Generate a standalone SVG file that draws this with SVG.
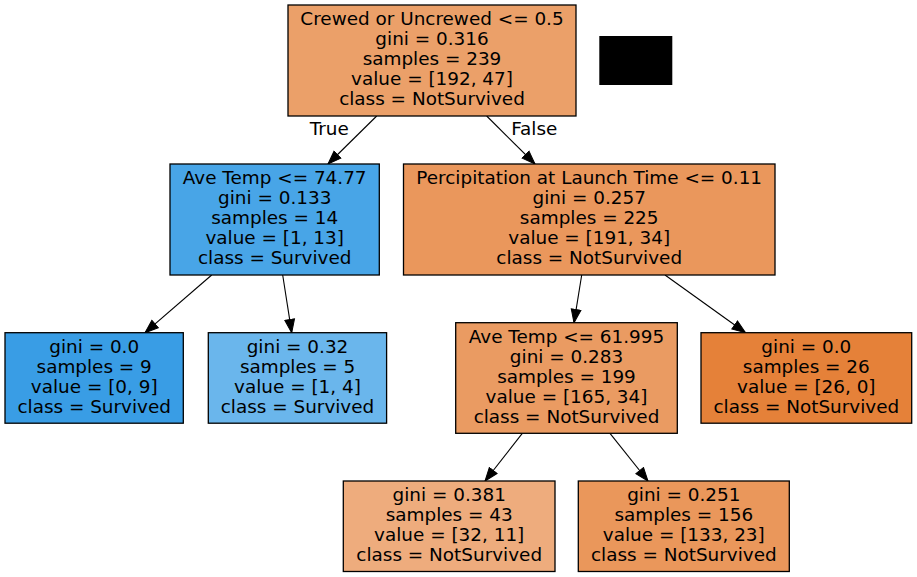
<svg xmlns="http://www.w3.org/2000/svg" width="917" height="577" viewBox="0 0 917 577">
<defs>
<style>
.box{stroke:#000;stroke-width:1.3}
text{font-family:"DejaVu Sans","Liberation Sans",sans-serif;font-size:18.4px;text-anchor:middle;fill:#000}
.edge{stroke:#000;stroke-width:1.1;fill:none}
</style>
<marker id="arr" markerUnits="userSpaceOnUse" markerWidth="15" markerHeight="12" viewBox="0 0 15 12" refX="14" refY="6" orient="auto">
<path d="M0.7,1.1 L14,6 L0.7,10.9 Z" fill="#000" stroke="#000" stroke-width="1"/>
</marker>
</defs>
<rect width="917" height="577" fill="#fff"/>
<g id="connectors">
<line class="edge" x1="376.7" y1="116" x2="328" y2="164" marker-end="url(#arr)"/>
<line class="edge" x1="486.7" y1="116" x2="535" y2="164" marker-end="url(#arr)"/>
<line class="edge" x1="211.7" y1="275" x2="145" y2="332.7" marker-end="url(#arr)"/>
<line class="edge" x1="282.7" y1="275" x2="291.7" y2="332.7" marker-end="url(#arr)"/>
<line class="edge" x1="581.7" y1="275" x2="574" y2="322.7" marker-end="url(#arr)"/>
<line class="edge" x1="665" y1="275" x2="745.5" y2="332.7" marker-end="url(#arr)"/>
<line class="edge" x1="522.3" y1="433.3" x2="485" y2="481" marker-end="url(#arr)"/>
<line class="edge" x1="610" y1="433.3" x2="648" y2="481" marker-end="url(#arr)"/>
<text x="329.3" y="135">True</text>
<text x="534.3" y="135">False</text>
</g>
<g id="root">
<rect class="box" x="288" y="5" width="288" height="111" fill="#eba069"/>
<text x="432" y="25.3">Crewed or Uncrewed &lt;= 0.5</text>
<text x="432" y="45.3">gini = 0.316</text>
<text x="432" y="65.3">samples = 239</text>
<text x="432" y="85.3">value = [192, 47]</text>
<text x="432" y="105.3">class = NotSurvived</text>
</g>
<g id="legend-block">
<rect x="599.3" y="36" width="73" height="49" fill="#000"/>
</g>
<g id="node1">
<rect class="box" x="170" y="164" width="209.3" height="111" fill="#48a5e7"/>
<text x="274.7" y="184.3">Ave Temp &lt;= 74.77</text>
<text x="274.7" y="204.3">gini = 0.133</text>
<text x="274.7" y="224.3">samples = 14</text>
<text x="274.7" y="244.3">value = [1, 13]</text>
<text x="274.7" y="264.3">class = Survived</text>
</g>
<g id="node2">
<rect class="box" x="5" y="332.7" width="178.3" height="90.5" fill="#399de5"/>
<text x="94.2" y="353">gini = 0.0</text>
<text x="94.2" y="373">samples = 9</text>
<text x="94.2" y="393">value = [0, 9]</text>
<text x="94.2" y="413">class = Survived</text>
</g>
<g id="node3">
<rect class="box" x="208.3" y="332.7" width="178.3" height="90.5" fill="#6ab6ec"/>
<text x="297.5" y="353">gini = 0.32</text>
<text x="297.5" y="373">samples = 5</text>
<text x="297.5" y="393">value = [1, 4]</text>
<text x="297.5" y="413">class = Survived</text>
</g>
<g id="node4">
<rect class="box" x="403.5" y="164" width="371.5" height="111" fill="#ea975c"/>
<text x="589.2" y="184.3">Percipitation at Launch Time &lt;= 0.11</text>
<text x="589.2" y="204.3">gini = 0.257</text>
<text x="589.2" y="224.3">samples = 225</text>
<text x="589.2" y="244.3">value = [191, 34]</text>
<text x="589.2" y="264.3">class = NotSurvived</text>
</g>
<g id="node5">
<rect class="box" x="455.7" y="322.7" width="221.6" height="110.6" fill="#ea9b62"/>
<text x="566.5" y="343">Ave Temp &lt;= 61.995</text>
<text x="566.5" y="363">gini = 0.283</text>
<text x="566.5" y="383">samples = 199</text>
<text x="566.5" y="403">value = [165, 34]</text>
<text x="566.5" y="423">class = NotSurvived</text>
</g>
<g id="node6">
<rect class="box" x="701" y="332.7" width="210.7" height="90.5" fill="#e58139"/>
<text x="806.3" y="353">gini = 0.0</text>
<text x="806.3" y="373">samples = 26</text>
<text x="806.3" y="393">value = [26, 0]</text>
<text x="806.3" y="413">class = NotSurvived</text>
</g>
<g id="node7">
<rect class="box" x="343.3" y="481" width="211.7" height="90.5" fill="#eeac7d"/>
<text x="449.2" y="501.3">gini = 0.381</text>
<text x="449.2" y="521.3">samples = 43</text>
<text x="449.2" y="541.3">value = [32, 11]</text>
<text x="449.2" y="561.3">class = NotSurvived</text>
</g>
<g id="node8">
<rect class="box" x="578.3" y="481" width="211" height="90.5" fill="#ea975b"/>
<text x="683.8" y="501.3">gini = 0.251</text>
<text x="683.8" y="521.3">samples = 156</text>
<text x="683.8" y="541.3">value = [133, 23]</text>
<text x="683.8" y="561.3">class = NotSurvived</text>
</g>
</svg>
